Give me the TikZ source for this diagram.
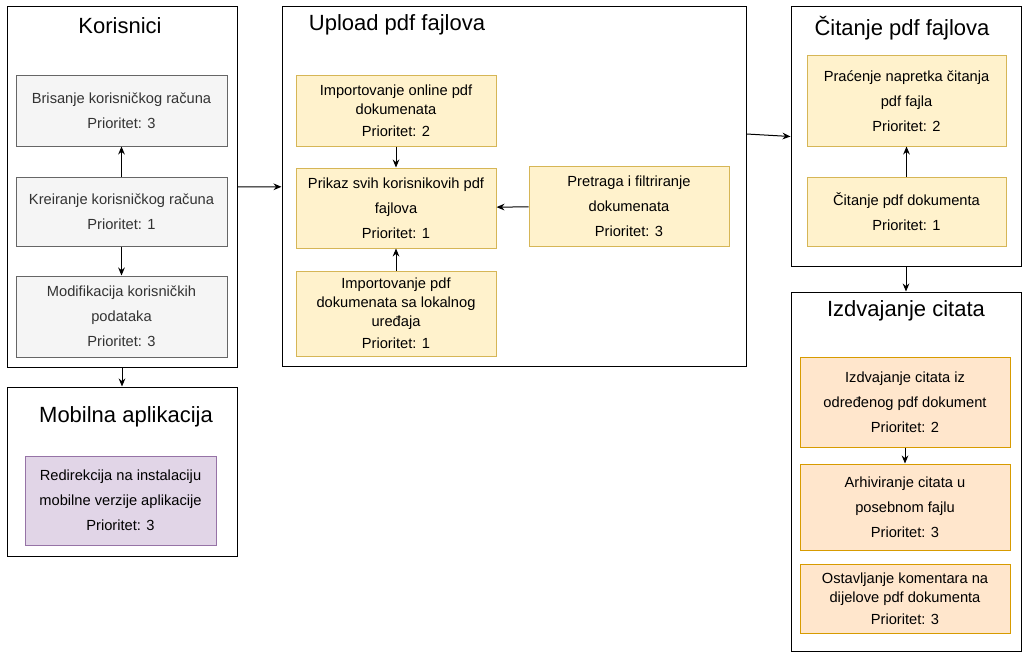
\documentclass[tikz,border=0pt]{standalone}
\usepackage{fontspec}
\setmainfont{Liberation Sans}
\usepackage{tikz}
\usepackage{xcolor}
\definecolor{GreyFill}{HTML}{F5F5F5}
\definecolor{GreyLine}{HTML}{666666}
\definecolor{GreyText}{HTML}{333333}
\definecolor{YellowFill}{HTML}{FFF2CC}
\definecolor{YellowLine}{HTML}{D6B656}
\definecolor{PurpleFill}{HTML}{E1D5E7}
\definecolor{PurpleLine}{HTML}{9673A6}
\definecolor{OrangeFill}{HTML}{FFE6CC}
\definecolor{OrangeLine}{HTML}{D79B00}
\usetikzlibrary{calc}
\usetikzlibrary{arrows.meta}
\tikzset{
  group/.style={draw=black, line width=0.75pt, rectangle, inner sep=0pt},
  grouptitle/.style={font=\fontsize{16.5}{19}\selectfont},
  task/.style={rectangle, line width=0.75pt, inner sep=1pt, align=center, font=\fontsize{11}{18.75}\selectfont},
  tight/.style={font=\fontsize{11}{14.25}\selectfont},
  greytask/.style={task, draw=GreyLine, fill=GreyFill, text=GreyText},
  yellowtask/.style={task, draw=YellowLine, fill=YellowFill},
  purpletask/.style={task, draw=PurpleLine, fill=PurpleFill},
  orangetask/.style={task, draw=OrangeLine, fill=OrangeFill},
  link/.style={-{Stealth[length=6pt,width=5pt]}, line width=0.75pt}
}
\begin{document}
\begin{tikzpicture}[x=0.75pt, y=-0.75pt]
\useasboundingbox (0, 0) rectangle (1031, 660);

% groups
\node[group, minimum width=172.5pt, minimum height=270pt] (korisnici) at (122, 187) {};
\node[group, minimum width=172.5pt, minimum height=126.75pt] (mobilna) at (122, 471.5) {};
\node[group, minimum width=348pt, minimum height=269.25pt] (upload) at (514, 186.5) {};
\node[group, minimum width=172.5pt, minimum height=194.25pt] (citanje) at (906, 136.5) {};
\node[group, minimum width=172.5pt, minimum height=269.25pt] (izdvajanje) at (906, 471.5) {};

\node[grouptitle] (korisniciTitle) at (120, 26) {Korisnici};
\node[grouptitle] (mobilnaTitle) at (126, 417) {Mobilna aplikacija};
\node[grouptitle] (uploadTitle) at (397, 25) {Upload pdf fajlova};
\node[grouptitle] (citanjeTitle) at (902, 28) {Čitanje pdf fajlova};
\node[grouptitle] (izdvajanjeTitle) at (906, 311) {Izdvajanje citata};

% korisnici
\node[greytask, minimum width=158.25pt, minimum height=52.5pt] (brisanje) at (121.5, 111) {Brisanje korisničkog računa\\Prioritet: 3};
\node[greytask, minimum width=158.25pt, minimum height=51.75pt] (kreiranje) at (121.5, 211.5) {Kreiranje korisničkog računa\\Prioritet: 1};
\node[greytask, minimum width=158.25pt, minimum height=60.75pt] (modifikacija) at (121.5, 316.5) {Modifikacija korisničkih\\podataka\\Prioritet: 3};

% mobilna aplikacija
\node[purpletask, minimum width=143.25pt, minimum height=66.75pt] (redirekcija) at (120.5, 500.5) {Redirekcija na instalaciju\\mobilne verzije aplikacije\\Prioritet: 3};

% upload
\node[yellowtask, tight, minimum width=150pt, minimum height=52.5pt] (online) at (396, 111) {Importovanje online pdf\\dokumenata\\[2pt]Prioritet: 2};
\node[yellowtask, minimum width=150pt, minimum height=60pt] (prikaz) at (396, 208) {Prikaz svih korisnikovih pdf\\fajlova\\Prioritet: 1};
\node[yellowtask, tight, minimum width=150pt, minimum height=63.75pt] (lokalno) at (396, 313.5) {Importovanje pdf\\dokumenata sa lokalnog\\uređaja\\[2pt]Prioritet: 1};
\node[yellowtask, minimum width=150pt, minimum height=60pt] (pretraga) at (629, 206) {Pretraga i filtriranje\\dokumenata\\Prioritet: 3};

% citanje
\node[yellowtask, minimum width=149.25pt, minimum height=67.5pt] (pracenje) at (906.5, 101) {Praćenje napretka čitanja\\pdf fajla\\Prioritet: 2};
\node[yellowtask, minimum width=149.25pt, minimum height=51.75pt] (citanjePdf) at (906.5, 211.5) {Čitanje pdf dokumenta\\Prioritet: 1};

% izdvajanje
\node[orangetask, minimum width=157.5pt, minimum height=67.5pt] (izdvajanjeIz) at (905, 402) {Izdvajanje citata iz\\određenog pdf dokument\\Prioritet: 2};
\node[orangetask, minimum width=157.5pt, minimum height=64.5pt] (arhiviranje) at (905, 507) {Arhiviranje citata u\\posebnom fajlu\\Prioritet: 3};
\node[orangetask, tight, minimum width=157.5pt, minimum height=51.75pt] (ostavljanje) at (905, 598.5) {Ostavljanje komentara na\\dijelove pdf dokumenta\\[2pt]Prioritet: 3};

% links
\draw[link] (korisnici) -- (upload);
\draw[link] ($(upload.east |- citanje.west)+(0,-2.5)$) -- (citanje.west);
\draw[link] (korisnici.south) -- (mobilna.north);
\draw[link] (citanje.south) -- (izdvajanje.north);
\draw[link] (kreiranje.north) -- (brisanje.south);
\draw[link] (kreiranje.south) -- (modifikacija.north);
\draw[link] (online.south) -- (prikaz.north);
\draw[link] (lokalno.north) -- (prikaz.south);
\draw[link] (pretraga) -- (prikaz);
\draw[link] (citanjePdf.north) -- (pracenje.south);
\draw[link] (izdvajanjeIz.south) -- (arhiviranje.north);
\end{tikzpicture}
\end{document}
